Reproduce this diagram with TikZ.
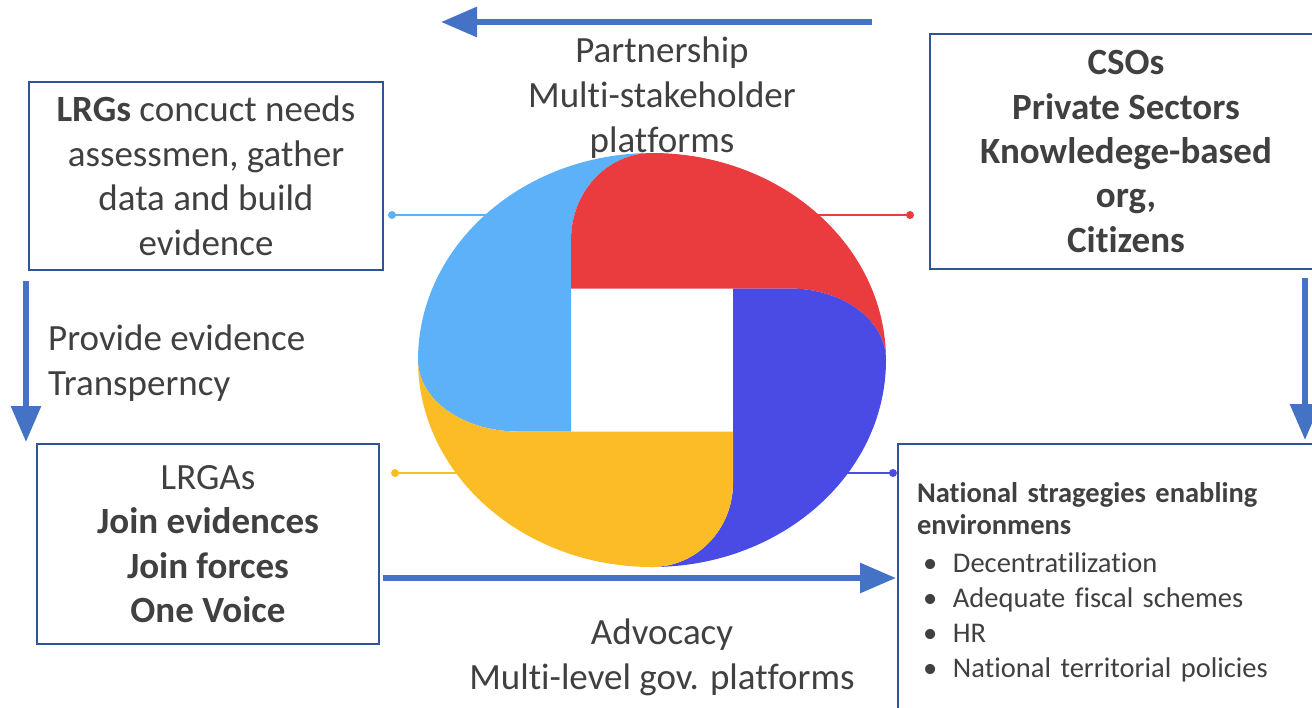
\documentclass[tikz,border=0pt]{standalone}
\usepackage{fontspec}
\setmainfont{Carlito}[RawFeature={-liga;-clig;-dlig;-calt}]
\usetikzlibrary{arrows.meta}
\definecolor{txt}{HTML}{404040}
\definecolor{boxc}{HTML}{2F5597}
\definecolor{arr}{HTML}{4472C4}
\definecolor{lb}{HTML}{5DB1F9}
\definecolor{rd}{HTML}{EA3B3E}
\definecolor{db}{HTML}{4A4AE4}
\definecolor{yl}{HTML}{FBBC25}
\begin{document}
\begin{tikzpicture}[x=1pt,y=-1pt,
  box/.style={draw=boxc, line width=2pt, text=txt, align=center, inner sep=0pt},
  bigtxt/.style={font=\fontsize{37}{44.5}\selectfont},
  lbl/.style={text=txt, align=center, inner sep=0pt, font=\fontsize{37}{45}\selectfont},
  bigarrow/.style={draw=arr, line width=6pt, -{Triangle[length=36pt,width=29pt]}},
  dotn/.style={circle, inner sep=0pt, minimum size=8pt},
  leader/.style={line width=2pt}]
\useasboundingbox (0,0) rectangle (1312,707);

% leader dots and lines (behind the wheel)
\node[dotn, fill=lb] (dlb) at (392,215) {};
\node[dotn, fill=rd] (drd) at (910,215) {};
\node[dotn, fill=yl] (dyl) at (395,473) {};
\node[dotn, fill=db] (ddb) at (893,473) {};
\coordinate (wlb) at (520,215);
\coordinate (wrd) at (790,215);
\coordinate (wyl) at (500,473);
\coordinate (wdb) at (800,473);
\draw[leader, lb] (dlb.center) -- (wlb);
\draw[leader, rd] (drd.center) -- (wrd);
\draw[leader, yl] (dyl.center) -- (wyl);
\draw[leader, db] (ddb.center) -- (wdb);

% pinwheel
\begin{scope}[shift={(652,360)}]
\fill[lb] (-81,71.5) -- (-134,71.5)
  arc[start angle=90,end angle=180,x radius=100,y radius=71.5]
  arc[start angle=180,end angle=270,x radius=234,y radius=207]
  arc[start angle=270,end angle=180,x radius=81,y radius=87] -- cycle;
\fill[rd] (-81,-71.5) -- (-81,-120)
  arc[start angle=180,end angle=270,x radius=81,y radius=87]
  arc[start angle=270,end angle=360,x radius=234,y radius=207]
  arc[start angle=0,end angle=-90,x radius=96,y radius=71.5] -- cycle;
\fill[db] (81,-71.5) -- (138,-71.5)
  arc[start angle=-90,end angle=0,x radius=96,y radius=71.5]
  arc[start angle=0,end angle=90,x radius=234,y radius=207]
  arc[start angle=90,end angle=0,x radius=81,y radius=84] -- cycle;
\fill[yl] (81,71.5) -- (81,123)
  arc[start angle=0,end angle=90,x radius=81,y radius=84]
  arc[start angle=90,end angle=180,x radius=234,y radius=207]
  arc[start angle=180,end angle=90,x radius=100,y radius=71.5] -- cycle;
\end{scope}

% boxes
\node[box, bigtxt, minimum width=354pt, minimum height=188pt] (lrg) at (206,176)
  {\textbf{LRGs} concuct needs\\assessmen, gather\\data and build\\evidence};
\node[box, minimum width=392pt, minimum height=235pt, font=\bfseries\fontsize{37}{44.5}\selectfont] (cso) at (1126,151.5)
  {CSOs\\Private Sectors\\Knowledege-based\\org,\\Citizens};
\node[box, bigtxt, minimum width=342pt, minimum height=200pt] (lrga) at (208,544)
  {LRGAs\\\textbf{Join evidences}\\\textbf{Join forces}\\\textbf{One Voice}};
\node[box, anchor=north west, align=left, minimum width=433pt, minimum height=277pt,
  text width=395pt, inner xsep=19pt, font=\fontsize{28.5}{35}\selectfont] (nat) at (897,443)
  {\textbf{National stragegies enabling}\\[-3pt]
   \textbf{environmens}\\[3pt]
   \makebox[36pt][l]{\hspace{6pt}\textbullet}Decentratilization\\
   \makebox[36pt][l]{\hspace{6pt}\textbullet}Adequate fiscal schemes\\
   \makebox[36pt][l]{\hspace{6pt}\textbullet}HR\\
   \makebox[36pt][l]{\hspace{6pt}\textbullet}National territorial policies};

% labels
\node[lbl] (part) at (662,98) {Partnership\\Multi-stakeholder\\platforms};
\node[lbl, align=left, anchor=west] (prov) at (48,363) {Provide evidence\\Transperncy};
\node[lbl] (adv) at (662,657) {Advocacy\\Multi-level gov. platforms};

% arrows
\coordinate (ta1) at (872,22); \coordinate (ta2) at (441,22);
\coordinate (la1) at (26,281); \coordinate (la2) at (26,442);
\coordinate (ra1) at (1305,278); \coordinate (ra2) at (1305,440);
\coordinate (ba1) at (383,578); \coordinate (ba2) at (896,578);
\draw[bigarrow] (ta1) -- (ta2);
\draw[bigarrow] (la1) -- (la2);
\draw[bigarrow] (ra1) -- (ra2);
\draw[bigarrow] (ba1) -- (ba2);
\end{tikzpicture}
\end{document}
